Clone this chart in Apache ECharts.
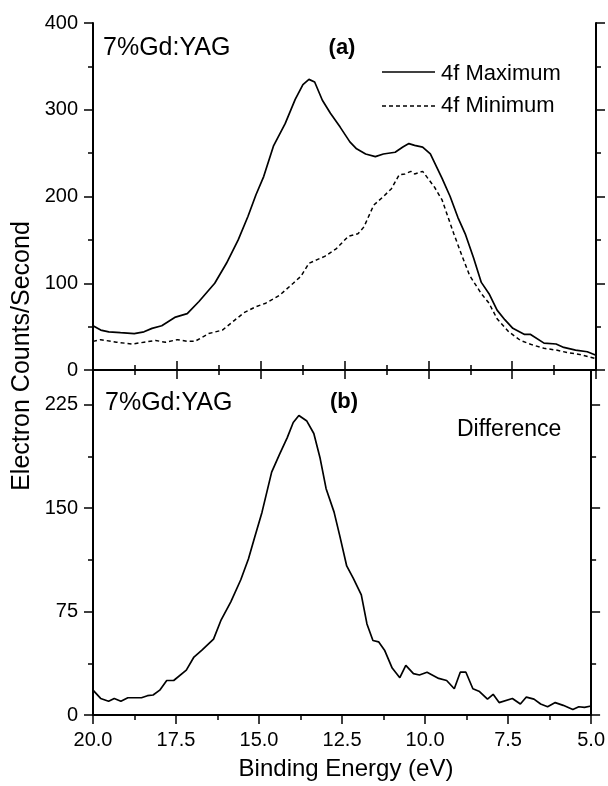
<!DOCTYPE html>
<html><head><meta charset="utf-8">
<script src="https://cdn.jsdelivr.net/npm/echarts@6/dist/echarts.min.js"></script>
<style>html,body{margin:0;padding:0;background:#fff}#c{width:608px;height:786px}</style>
</head><body><div id="c"></div>
<script>
// ---- data ----
const maxEnergy = [20,19.77,19.53,19.18,18.77,18.48,18.24,17.95,17.54,17.19,16.84,16.37,16.02,15.67,15.38,15.14,14.91,14.62,14.27,13.97,13.74,13.56,13.39,13.16,12.92,12.63,12.34,12.14,11.87,11.58,11.34,10.99,10.76,10.58,10.41,10.17,9.94,9.59,9.35,9.12,8.89,8.65,8.42,8.19,7.95,7.72,7.48,7.13,6.95,6.55,6.19,5.96,5.61,5.26,5.0];
const maxCounts = [51,46,44,43,42,44,48,51,61,65,79,100,123,150,177,202,223,258,284,312,329,335,332,311,296,280,263,255,249,246,249,251,257,261,259,257,249,221,200,176,156,129,101,88,69,58,48,41,41,31,30,26,23,21,17];
const minEnergy = [20,19.77,19.3,18.83,18.48,18.13,17.84,17.48,17.19,16.96,16.55,16.14,15.79,15.5,15.14,14.85,14.44,14.03,13.80,13.56,13.33,13.09,12.74,12.39,12.1,11.92,11.63,11.34,11.1,10.87,10.7,10.52,10.41,10.17,9.82,9.59,9.24,9.0,8.77,8.42,8.19,7.95,7.6,7.25,6.9,6.55,6.19,5.84,5.49,5.0];
const minCounts = [33,35,32,30,32,34,32,35,33,33,42,46,57,66,73,77,86,100,108,123,127,131,140,154,157,165,190,200,209,225,226,229,226,229,211,196,157,132,109,88,77,59,44,34,29,25,23,20,18,13];
const diffEnergy = [20,19.77,19.53,19.36,19.16,18.95,18.54,18.36,18.19,17.99,17.78,17.57,17.19,16.96,16.72,16.37,16.14,15.85,15.55,15.32,15.14,14.91,14.62,14.38,14.15,13.97,13.8,13.56,13.35,13.16,12.98,12.74,12.57,12.36,12.16,11.92,11.75,11.57,11.4,11.22,10.99,10.76,10.58,10.35,10.17,9.94,9.59,9.35,9.12,8.94,8.77,8.56,8.36,8.12,7.95,7.77,7.37,7.13,6.95,6.72,6.52,6.31,6.08,5.84,5.55,5.37,5.2,5.0];
const diffCounts = [18,12,10,12,10,12.5,12.5,14,14.5,18,25,25,32.5,42,47,55,69,82,98,113,128,147,176,189,201,212,217,213,204,186,164,147,130,108,99,87,66,54,53,47,34,27,36,30,29,31,26.5,25,19,31,31,19,17,11.5,15,9,12,8,13,11.5,8,6,9,7,4,6,5.5,6.5];
const xTicks = {min: 5, max: 20, step: 2.5};
const topYTicks = {min: 0, max: 400, step: 100};
const botYTicks = {min: 0, max: 250, step: 75};

const FONT = '"Liberation Sans", Arial, Helvetica, sans-serif';
const pair = (xs, ys) => xs.map((x, i) => [x, ys[i]]);

const chart = echarts.init(document.getElementById('c'), null, {renderer: 'canvas'});
const LINE = {show: true, lineStyle: {color: '#000', width: 2}};
const TICK = (len, show) => ({show: show !== false, inside: false, length: len, lineStyle: {color: '#000', width: 1.5}});
const MINOR = {show: true, splitNumber: 2, length: 5, lineStyle: {color: '#000', width: 1.5}};

function xAx(grid, position, labels) {
  return {
    type: 'value', gridIndex: grid, position: position, inverse: true,
    min: xTicks.min, max: xTicks.max, interval: xTicks.step,
    axisLine: LINE, axisTick: TICK(9), minorTick: MINOR,
    splitLine: {show: false}, minorSplitLine: {show: false},
    axisLabel: {show: labels, color: '#000', fontFamily: FONT, fontSize: 20, margin: 15,
      formatter: v => v.toFixed(1)}
  };
}
function yAx(grid, position, lim, step, opts) {
  return Object.assign({
    type: 'value', gridIndex: grid, position: position,
    min: lim.min, max: lim.max, interval: step,
    axisLine: LINE, axisTick: TICK(9), splitLine: {show: false},
    axisLabel: {show: false}
  }, opts || {});
}
const yLabel = {show: true, color: '#000', fontFamily: FONT, fontSize: 20, margin: 15};

const option = {
  animation: false,
  backgroundColor: '#fff',
  grid: [
    {left: 93, top: 23, width: 503, height: 347},
    {left: 93, top: 370, width: 503, height: 345}
  ],
  xAxis: [
    xAx(0, 'bottom', false),
    xAx(0, 'top', false),
    xAx(1, 'bottom', true)
  ],
  yAxis: [
    yAx(0, 'left', topYTicks, topYTicks.step, {minorTick: MINOR, axisLabel: yLabel}),
    yAx(0, 'right', topYTicks, topYTicks.step, {minorTick: MINOR}),
    yAx(1, 'left', botYTicks, botYTicks.step, {axisLabel: Object.assign({}, yLabel, {showMaxLabel: false})}),
    yAx(1, 'left', botYTicks, botYTicks.step / 2, {axisLine: {show: false}, axisTick: TICK(5)}),
    yAx(1, 'right', botYTicks, botYTicks.step),
    yAx(1, 'right', botYTicks, botYTicks.step / 2, {axisLine: {show: false}, axisTick: TICK(5)})
  ],
  series: [
    {type: 'line', name: '4f Maximum', xAxisIndex: 0, yAxisIndex: 0, data: pair(maxEnergy, maxCounts),
      showSymbol: false, symbol: 'none', lineStyle: {color: '#000', width: 1.7}},
    {type: 'line', name: '4f Minimum', xAxisIndex: 0, yAxisIndex: 0, data: pair(minEnergy, minCounts),
      showSymbol: false, symbol: 'none', lineStyle: {color: '#000', width: 1.5, type: [4, 3]}},
    {type: 'line', name: 'Difference', xAxisIndex: 2, yAxisIndex: 2, data: pair(diffEnergy, diffCounts),
      showSymbol: false, symbol: 'none', lineStyle: {color: '#000', width: 1.7}}
  ],
  graphic: [
    {type: 'text', x: 103, y: 48, style: {text: '7%Gd:YAG', font: '25px ' + FONT, fill: '#000', textAlign: 'left', textVerticalAlign: 'middle', align: 'left', verticalAlign: 'middle'}},
    {type: 'text', x: 342, y: 48, style: {text: '(a)', font: 'bold 22px ' + FONT, fill: '#000', textAlign: 'center', textVerticalAlign: 'middle', align: 'center', verticalAlign: 'middle'}},
    {type: 'line', shape: {x1: 382, y1: 72, x2: 435, y2: 72}, style: {stroke: '#000', lineWidth: 1.7}},
    {type: 'line', shape: {x1: 382, y1: 106, x2: 435, y2: 106}, style: {stroke: '#000', lineWidth: 1.5, lineDash: [4, 3]}},
    {type: 'text', x: 441, y: 74, style: {text: '4f Maximum', font: '22px ' + FONT, fill: '#000', textAlign: 'left', textVerticalAlign: 'middle', align: 'left', verticalAlign: 'middle'}},
    {type: 'text', x: 441, y: 106, style: {text: '4f Minimum', font: '22px ' + FONT, fill: '#000', textAlign: 'left', textVerticalAlign: 'middle', align: 'left', verticalAlign: 'middle'}},
    {type: 'text', x: 105, y: 403, style: {text: '7%Gd:YAG', font: '25px ' + FONT, fill: '#000', textAlign: 'left', textVerticalAlign: 'middle', align: 'left', verticalAlign: 'middle'}},
    {type: 'text', x: 344, y: 402, style: {text: '(b)', font: 'bold 22px ' + FONT, fill: '#000', textAlign: 'center', textVerticalAlign: 'middle', align: 'center', verticalAlign: 'middle'}},
    {type: 'text', x: 457, y: 430, style: {text: 'Difference', font: '23px ' + FONT, fill: '#000', textAlign: 'left', textVerticalAlign: 'middle', align: 'left', verticalAlign: 'middle'}},
    {type: 'text', x: 22, y: 356, rotation: Math.PI / 2, style: {text: 'Electron Counts/Second', font: '25px ' + FONT, fill: '#000', textAlign: 'center', textVerticalAlign: 'middle', align: 'center', verticalAlign: 'middle'}},
    {type: 'text', x: 346, y: 769, style: {text: 'Binding Energy (eV)', font: '24px ' + FONT, fill: '#000', textAlign: 'center', textVerticalAlign: 'middle', align: 'center', verticalAlign: 'middle'}}
  ]
};
chart.setOption(option);
</script>
</body></html>
